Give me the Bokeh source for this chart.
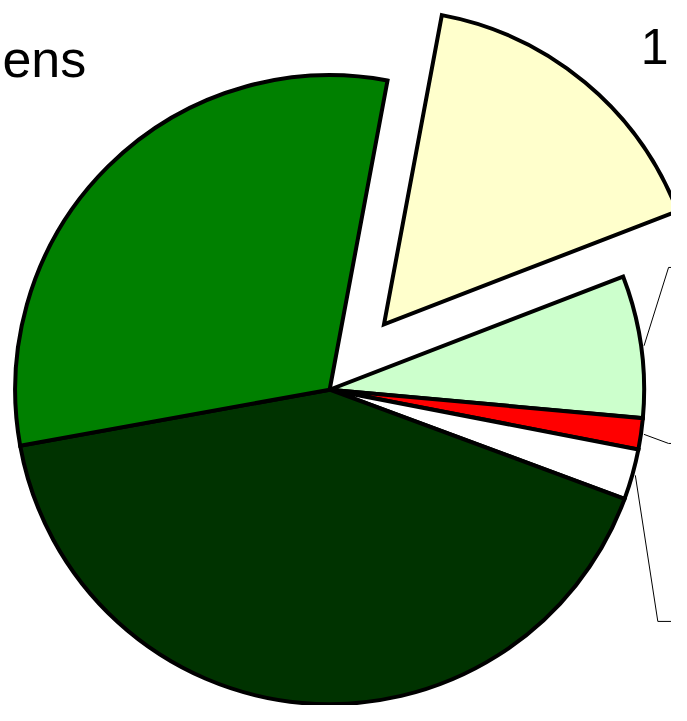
import math
from bokeh.plotting import figure
from bokeh.models import Range1d
from bokeh.core.properties import value
from bokeh.embed import file_html
from bokeh.resources import INLINE

# ---- data (shares in percent, clockwise from the start angle) ----
slices = ["yellow", "lightgreen", "red", "white", "darkgreen", "green"]
shares = [16.2, 7.3, 1.6, 2.6, 41.5, 30.8]
colors = ["#FFFFCC", "#CCFFCC", "#FF0000", "#FFFFFF", "#003300", "#008000"]
exploded = [True, False, False, False, False, False]
leader_slices = ["lightgreen", "red", "white"]
title_text = "ens"
label_text = "1"

# ---- layout (in reference-pixel units) ----
START_DEG = 79.4
R = 322
EXPLODE = 87
REF_W, REF_H = 687, 721
W, H = 671, 705
CX, CY = 337, 398          # pie centre
leader_bends = {"lightgreen": (684, 273), "red": (684, 453), "white": (673, 635)}

def px(x, y):
    return x - CX, CY - y

p = figure(width=W, height=H, output_backend="svg", toolbar_location=None,
           x_range=Range1d(-CX, REF_W - CX), y_range=Range1d(CY - REF_H, CY),
           min_border=0)
p.axis.visible = False
p.grid.visible = False
p.outline_line_color = None
p.background_fill_color = "white"
p.border_fill_color = "white"

total = sum(shares)
ang = math.radians(START_DEG)
mids = {}
for name, s, c, ex in zip(slices, shares, colors, exploded):
    span = 2 * math.pi * s / total
    a1, a0 = ang, ang - span
    mid = (a0 + a1) / 2
    mids[name] = mid
    ox = EXPLODE * math.cos(mid) if ex else 0.0
    oy = EXPLODE * math.sin(mid) if ex else 0.0
    p.wedge(x=[ox], y=[oy], radius=R, start_angle=[a0], end_angle=[a1],
            fill_color=c, line_color="black", line_width=4, line_join="miter")
    ang = a0

for name in leader_slices:
    m = mids[name]
    sx, sy = (R + 3) * math.cos(m), (R + 3) * math.sin(m)
    bx, by = px(*leader_bends[name])
    p.line(x=[sx, bx, bx + 60], y=[sy, by, by], line_color="black", line_width=1)

tx, ty = px(2, 60)
p.text(x=[tx], y=[ty], text=[title_text], text_font=value("Liberation Sans"),
       text_font_size="52px", text_align="left", text_baseline="alphabetic",
       text_color="black")
lx, ly = px(684, 47)
p.text(x=[lx], y=[ly], text=[label_text], text_font=value("Liberation Sans"),
       text_font_size="50px", text_align="right", text_baseline="alphabetic",
       text_color="black")

open("out.html", "w").write(file_html(p, INLINE))
